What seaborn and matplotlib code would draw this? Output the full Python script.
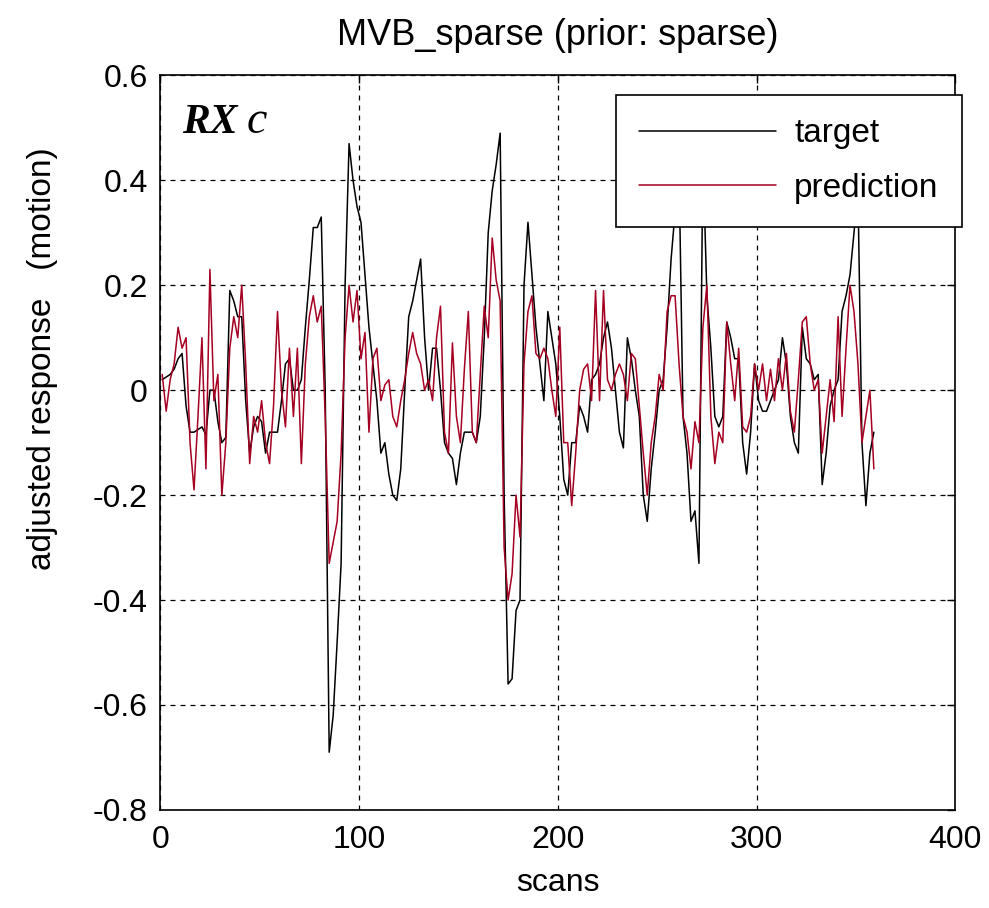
import matplotlib
matplotlib.use("Agg")
import matplotlib.pyplot as plt
from matplotlib.lines import Line2D
import pandas as pd
import seaborn as sns

# scans sampled every 2 scans
scans = list(range(1, 361, 2))

target = [
    0.02, 0.025, 0.03, 0.04, 0.06, 0.07, -0.03, -0.08, -0.08, -0.075,
    -0.07, -0.085, 0.0, 0.0, -0.06, -0.10, -0.09, 0.19, 0.17, 0.14, 0.14,
    -0.02, -0.12, -0.07, -0.05, -0.06, -0.12, -0.08, -0.08, -0.08, -0.02,
    0.05, 0.06, 0.0, 0.0, 0.02, 0.12, 0.21, 0.31, 0.31, 0.33,
    0.0, -0.69, -0.62, -0.48, -0.33, 0.2, 0.47, 0.40, 0.35, 0.32,
    0.22, 0.12, 0.05, -0.02, -0.12, -0.10, -0.16, -0.20, -0.21,
    -0.15, 0.0, 0.14, 0.17, 0.21, 0.25, 0.10, 0.0, 0.08, 0.08,
    0.0, -0.10, -0.12, -0.13, -0.18, -0.12, -0.08, -0.08, -0.08, -0.10,
    -0.05, 0.10, 0.30, 0.38, 0.43, 0.49, -0.2, -0.56, -0.55, -0.42,
    -0.40, 0.20, 0.32, 0.22, 0.12, 0.05, -0.02, 0.15, 0.10, 0.05,
    -0.05, -0.17, -0.20, -0.10, -0.10, -0.03, -0.05, -0.08, 0.02, 0.03,
    0.05, 0.10, 0.13, 0.08, 0.0, -0.08, -0.11, 0.10, 0.06, 0.0,
    -0.05, -0.20, -0.25, -0.15, -0.08, 0.0, 0.02, 0.12, 0.25, 0.34,
    0.42, -0.05, -0.12, -0.25, -0.23, -0.33, 0.45, 0.18, 0.08, -0.05, -0.07,
    -0.05, 0.13, 0.10, 0.06, 0.06, -0.10, -0.16, -0.08, 0.05, -0.02,
    -0.04, -0.04, -0.02, 0.0, 0.02, 0.10, 0.05, -0.05, -0.10, -0.12,
    0.12, 0.06, 0.05, 0.02, 0.03, -0.18, -0.12, -0.03, 0.0, 0.02,
    0.15, 0.18, 0.22, 0.30, 0.38, -0.10, -0.22, -0.12, -0.08,
]

prediction = [
    0.03, -0.04, 0.02, 0.05, 0.12, 0.08, 0.10, -0.10, -0.19, -0.05,
    0.10, -0.15, 0.23, -0.02, 0.03, -0.20, -0.10, 0.08, 0.14, 0.10, 0.20,
    0.05, -0.14, -0.05, -0.08, -0.02, -0.10, -0.14, -0.03, 0.15, 0.0,
    -0.07, 0.08, -0.05, 0.08, -0.14, 0.05, 0.14, 0.18, 0.13, 0.16,
    -0.05, -0.33, -0.29, -0.25, -0.12, 0.10, 0.20, 0.13, 0.19, 0.06,
    0.11, -0.08, 0.06, 0.08, -0.02, 0.01, 0.02, -0.05, -0.07,
    -0.02, 0.02, 0.07, 0.11, 0.07, 0.05, 0.0, 0.02, -0.02, 0.10,
    0.16, -0.08, -0.12, 0.09, -0.05, -0.10, 0.04, 0.15, -0.08, -0.10,
    0.03, 0.16, 0.10, 0.29, 0.21, 0.17, -0.30, -0.40, -0.35, -0.20,
    -0.28, 0.05, 0.15, 0.18, 0.07, 0.06, 0.08, 0.06, 0.0, -0.05,
    0.12, -0.10, -0.10, -0.22, -0.12, 0.0, 0.04, 0.05, -0.02, 0.19,
    -0.02, 0.19, 0.02, 0.0, 0.03, 0.05, 0.03, -0.02, 0.07, 0.06,
    -0.03, -0.12, -0.20, -0.10, -0.05, 0.03, 0.0, 0.15, 0.18, 0.18,
    0.05, -0.05, -0.08, -0.15, -0.06, -0.10, 0.12, 0.20, -0.05, -0.14, -0.08,
    -0.10, 0.13, 0.05, -0.02, 0.08, -0.07, -0.08, -0.05, 0.05, 0.0,
    0.05, -0.02, 0.04, -0.02, 0.06, 0.0, 0.07, -0.04, -0.08, 0.02,
    0.13, 0.14, 0.05, 0.0, 0.02, -0.12, -0.05, 0.02, -0.06, 0.14,
    -0.05, 0.08, 0.20, 0.15, 0.05, -0.10, -0.05, 0.0, -0.15,
]

x_ticks = [0, 100, 200, 300, 400]
y_ticks = [-0.8, -0.6, -0.4, -0.2, 0, 0.2, 0.4, 0.6]
y_tick_labels = ["-0.8", "-0.6", "-0.4", "-0.2", "0", "0.2", "0.4", "0.6"]

sns.set_style("white")
plt.rcParams["font.family"] = ["Liberation Sans", "DejaVu Sans"]
plt.rcParams["axes.unicode_minus"] = False
plt.rcParams["text.color"] = "black"
plt.rcParams["axes.labelcolor"] = "black"

df = pd.DataFrame({
    "scan": scans * 2,
    "value": target + prediction,
    "series": ["target"] * len(scans) + ["prediction"] * len(scans),
})

RED = "#A50021"

fig = plt.figure(figsize=(9.89, 9.08), dpi=100)
ax = fig.add_axes([0.162, 0.108, 0.804, 0.809])

sns.lineplot(data=df, x="scan", y="value", hue="series",
             palette={"target": "black", "prediction": RED},
             linewidth=1.1, ax=ax, legend=False, estimator=None, sort=False)

ax.set_xlim(0, 400)
ax.set_ylim(-0.8, 0.6)
ax.set_xticks(x_ticks)
ax.set_xticklabels([str(t) for t in x_ticks])
ax.set_yticks(y_ticks)
ax.set_yticklabels(y_tick_labels)
ax.tick_params(axis="both", direction="in", length=6, width=1, labelsize=23,
               top=True, right=True, colors="black")
ax.tick_params(axis="x", pad=11)
ax.tick_params(axis="y", pad=9)
ax.grid(True, color="black", linestyle=(0, (4, 4)), linewidth=0.9)
for s in ax.spines.values():
    s.set_color("black")
    s.set_linewidth(1.2)

ax.set_xlabel("scans", fontsize=23, labelpad=9)
ax.set_ylabel("adjusted response   (motion)", fontsize=24)
ax.yaxis.set_label_coords(-0.128, 0.614)
ax.set_title("MVB_sparse (prior: sparse)", fontsize=26, pad=22, color="black")

handles = [Line2D([], [], color="black", linewidth=1.1),
           Line2D([], [], color=RED, linewidth=1.1)]
leg = fig.legend(handles, ["target", "prediction"], loc="upper right",
                 bbox_to_anchor=(0.9727, 0.8954), borderaxespad=0,
                 fontsize=24, frameon=True,
                 fancybox=False, framealpha=1, edgecolor="black",
                 handlelength=4.1, handletextpad=0.55, borderpad=0.7,
                 labelspacing=0.7)
leg.get_frame().set_linewidth(1.2)
leg.set_zorder(10)

ax.text(0.027, 0.921, "RX", transform=ax.transAxes, fontsize=30,
        fontweight="bold", style="italic", family="Liberation Serif",
        va="baseline", ha="left")
ax.text(0.109, 0.921, "c", transform=ax.transAxes, fontsize=33,
        style="italic", family="Liberation Serif", va="baseline", ha="left")

fig.savefig("out.png", dpi=100)
